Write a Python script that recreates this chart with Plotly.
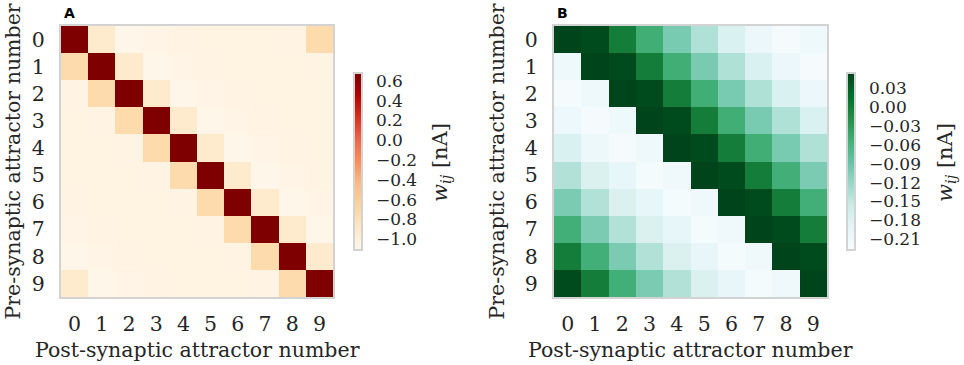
import plotly.graph_objects as go

labels = list(range(10))

# Panel A: weight matrix w_ij [nA] (rows = pre-synaptic, cols = post-synaptic)
weights_a = [
    [0.68, -0.92, -1.10, -1.07, -1.06, -1.05, -1.05, -1.05, -1.06, -0.74],
    [-0.74, 0.68, -0.92, -1.10, -1.07, -1.06, -1.05, -1.05, -1.05, -1.06],
    [-1.06, -0.74, 0.68, -0.92, -1.10, -1.07, -1.06, -1.05, -1.05, -1.05],
    [-1.05, -1.06, -0.74, 0.68, -0.92, -1.10, -1.07, -1.06, -1.05, -1.05],
    [-1.05, -1.05, -1.06, -0.74, 0.68, -0.92, -1.10, -1.07, -1.06, -1.05],
    [-1.05, -1.05, -1.05, -1.06, -0.74, 0.68, -0.92, -1.10, -1.07, -1.06],
    [-1.06, -1.05, -1.05, -1.05, -1.06, -0.74, 0.68, -0.92, -1.10, -1.07],
    [-1.07, -1.06, -1.05, -1.05, -1.05, -1.06, -0.74, 0.68, -0.92, -1.10],
    [-1.10, -1.07, -1.06, -1.05, -1.05, -1.05, -1.06, -0.74, 0.68, -0.92],
    [-0.92, -1.10, -1.07, -1.06, -1.05, -1.05, -1.05, -1.06, -0.74, 0.68],
]

# Panel B: weight matrix w_ij [nA]
weights_b = [
    [0.054, 0.048, 0.000, -0.051, -0.099, -0.137, -0.175, -0.204, -0.223, -0.210],
    [-0.210, 0.054, 0.048, 0.000, -0.051, -0.099, -0.137, -0.175, -0.204, -0.223],
    [-0.223, -0.210, 0.054, 0.048, 0.000, -0.051, -0.099, -0.137, -0.175, -0.204],
    [-0.206, -0.223, -0.210, 0.054, 0.048, 0.000, -0.051, -0.099, -0.137, -0.175],
    [-0.175, -0.205, -0.223, -0.210, 0.054, 0.048, 0.000, -0.051, -0.099, -0.137],
    [-0.139, -0.176, -0.195, -0.222, -0.211, 0.054, 0.048, 0.000, -0.053, -0.101],
    [-0.101, -0.139, -0.176, -0.196, -0.222, -0.211, 0.054, 0.048, 0.000, -0.053],
    [-0.053, -0.101, -0.139, -0.176, -0.196, -0.222, -0.211, 0.054, 0.048, 0.000],
    [0.000, -0.053, -0.101, -0.139, -0.176, -0.197, -0.222, -0.211, 0.054, 0.048],
    [0.048, 0.000, -0.053, -0.101, -0.139, -0.176, -0.197, -0.222, -0.211, 0.054],
]

cb_ticks_a = [-1.0, -0.8, -0.6, -0.4, -0.2, 0.0, 0.2, 0.4, 0.6]
cb_ticks_b = [-0.21, -0.18, -0.15, -0.12, -0.09, -0.06, -0.03, 0.00, 0.03]

SERIF = "DejaVu Serif"
TXT = "#262626"
FRAME = "#d3d3d3"
FS = 20.5

W, H = 964, 365

def px_x(p):
    return p / W

def px_y(p):
    return 1 - p / H

cb_title = "<i>w</i><sub><i>ij</i></sub> [nA]"

def colorbar(x0, ticks, fmt):
    return dict(
        x=px_x(x0), xanchor="left", xpad=0, ypad=0,
        y=px_y(161.5), yanchor="middle", len=177 / H, lenmode="fraction",
        thickness=8, outlinewidth=2, outlinecolor=FRAME,
        tickvals=ticks, tickformat=fmt, ticks="outside", ticklen=10,
        tickcolor="rgba(0,0,0,0)",
        tickfont=dict(family=SERIF, size=17, color=TXT),
    )

fig = go.Figure()

fig.add_trace(go.Heatmap(
    z=weights_a, x=labels, y=labels, colorscale="OrRd", zmin=-1.11, zmax=0.68,
    xaxis="x", yaxis="y", colorbar=colorbar(354, cb_ticks_a, ".1f"),
))

fig.add_trace(go.Heatmap(
    z=weights_b, x=labels, y=labels, colorscale="BuGn", zmin=-0.227, zmax=0.054,
    xaxis="x2", yaxis="y2", colorbar=colorbar(847, cb_ticks_b, ".2f"),
))

axis_common = dict(
    showgrid=False, zeroline=False, showline=True, mirror=True,
    linecolor=FRAME, linewidth=2, ticks="outside", tickcolor="rgba(0,0,0,0)",
    tickfont=dict(family=SERIF, size=FS, color=TXT), tickmode="array",
    tickvals=labels,
)

ydom = [px_y(297), px_y(26)]
fig.update_layout(
    width=W, height=H,
    margin=dict(l=0, r=0, t=0, b=0),
    paper_bgcolor="white", plot_bgcolor="white",
    xaxis=dict(domain=[px_x(61), px_x(333)], anchor="y", ticklen=7, range=[-0.5, 9.5], **axis_common),
    yaxis=dict(domain=ydom, anchor="x", ticklen=10, range=[9.5, -0.5], **axis_common),
    xaxis2=dict(domain=[px_x(554), px_x(827)], anchor="y2", ticklen=7, range=[-0.5, 9.5], **axis_common),
    yaxis2=dict(domain=ydom, anchor="x2", ticklen=10, range=[9.5, -0.5], **axis_common),
)

annotations = []
for xc, letter, lx in [((61 + 333) / 2, "A", 62), ((554 + 827) / 2, "B", 555)]:
    annotations.append(dict(text="Post-synaptic attractor number", x=px_x(xc), y=px_y(350),
                            xref="paper", yref="paper", showarrow=False,
                            xanchor="center", yanchor="middle",
                            font=dict(family=SERIF, size=FS, color=TXT)))
    annotations.append(dict(text="<b>" + letter + "</b>", x=px_x(lx), y=px_y(13),
                            xref="paper", yref="paper", showarrow=False,
                            xanchor="left", yanchor="middle",
                            font=dict(family="DejaVu Sans", size=14, color="black")))
for yx in [12, 496]:
    annotations.append(dict(text="Pre-synaptic attractor number", x=px_x(yx), y=px_y(161.5),
                            xref="paper", yref="paper", showarrow=False, textangle=-90,
                            xanchor="center", yanchor="middle",
                            font=dict(family=SERIF, size=FS, color=TXT)))
for tx in [441, 946]:
    annotations.append(dict(text=cb_title, x=px_x(tx), y=px_y(163),
                            xref="paper", yref="paper", showarrow=False, textangle=-90,
                            xanchor="center", yanchor="middle",
                            font=dict(family=SERIF, size=21, color=TXT)))
fig.update_layout(annotations=annotations)

fig.write_html("out.html", config={"displayModeBar": False},
               post_script="document.body.style.margin='0';document.body.style.overflow='hidden';")
